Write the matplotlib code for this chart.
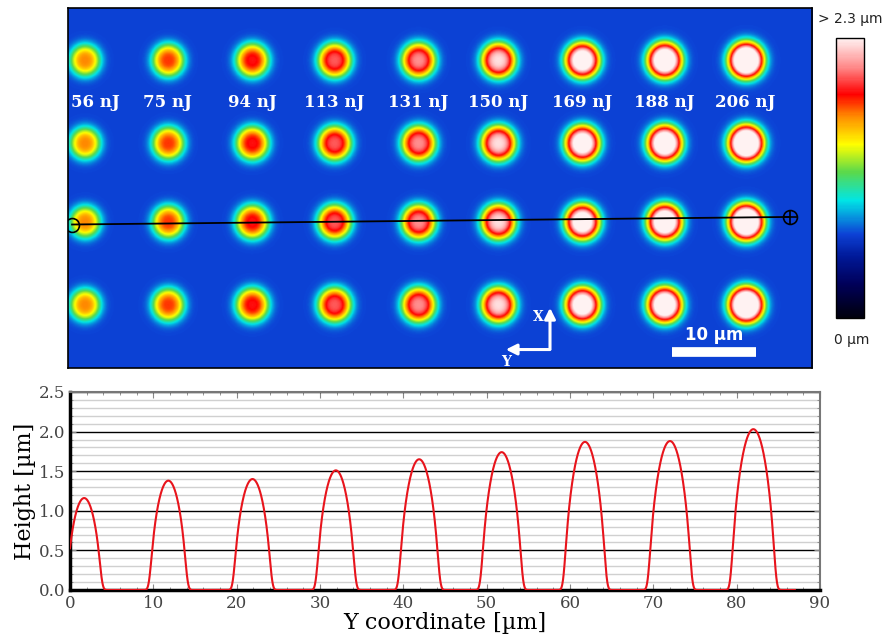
import numpy as np
import matplotlib
matplotlib.use('Agg')
import matplotlib.pyplot as plt
from matplotlib.colors import LinearSegmentedColormap
from matplotlib.ticker import MultipleLocator

plt.rcParams['font.family'] = 'DejaVu Serif'

# ---- data ----
energies = ['56 nJ', '75 nJ', '94 nJ', '113 nJ', '131 nJ', '150 nJ', '169 nJ', '188 nJ', '206 nJ']

# profile (bottom panel)
peak_y = [1.7, 11.8, 21.9, 31.9, 41.9, 51.8, 61.8, 72.0, 82.0]
peak_h = [1.17, 1.39, 1.41, 1.52, 1.66, 1.75, 1.88, 1.89, 2.04]
peak_r = [2.1, 2.25, 2.3, 2.35, 2.45, 2.5, 2.55, 2.6, 2.7]
profile_end = 87.0

# height map (top panel), in um
map_w, map_h = 88.6, 42.9
spot_x = [2.0, 11.9, 21.9, 31.7, 41.7, 51.2, 61.2, 71.0, 80.7]
row_y = [6.2, 16.1, 25.5, 35.4]
spot_amp = [0.97, 1.08, 1.17, 1.29, 1.38, 1.56, 1.84, 1.96, 2.19]
spot_w = [1.85, 1.92, 1.97, 2.0, 2.03, 2.05, 2.07, 2.09, 2.12]
background = 0.69
vmax = 2.3

fig = plt.figure(figsize=(8.88, 6.38), dpi=100)

# ---- top: height map ----
ax_img = fig.add_axes([68/888, 1-368/638, 744/888, 360/638])
xx = np.linspace(0, map_w, 900)
yy = np.linspace(0, map_h, 440)
X, Y = np.meshgrid(xx, yy)
Z = np.full_like(X, background)
for xc, a, w in zip(spot_x, spot_amp, spot_w):
    for yc in row_y:
        r = np.sqrt((X-xc)**2 + ((Y-yc)/1.04)**2)
        Z += a*np.exp(-(r/w)**3)

cmap = LinearSegmentedColormap.from_list('height', [
    (0.0, (0.0, 0.0, 0.05)),
    (0.12, (0.0, 0.0, 0.35)),
    (0.22, (0.0, 0.1, 0.6)),
    (0.30, (0.05, 0.26, 0.84)),
    (0.42, (0.0, 0.9, 0.9)),
    (0.52, (0.35, 0.85, 0.3)),
    (0.62, (1.0, 1.0, 0.0)),
    (0.72, (1.0, 0.55, 0.0)),
    (0.80, (1.0, 0.0, 0.0)),
    (0.90, (1.0, 0.55, 0.55)),
    (1.0, (1.0, 0.95, 0.95))])

im = ax_img.imshow(Z, cmap=cmap, vmin=0, vmax=vmax, extent=[0, map_w, map_h, 0],
                   aspect='auto', interpolation='bilinear')
ax_img.set_xticks([])
ax_img.set_yticks([])
for sp in ax_img.spines.values():
    sp.set_linewidth(1.2)

label_x = list(spot_x)
label_x[0] = spot_x[0] + 1.3
for lx, e in zip(label_x, energies):
    ax_img.text(lx, 11.3, e, color='white', fontsize=12, fontweight='bold',
                ha='center', va='center')

# profile line on the map
ax_img.plot([0.48, 85.95], [25.8, 24.9], color='black', lw=1.3)
ax_img.plot([0.48], [25.8], marker='o', mfc='none', mec='black', mew=1.2, ms=10, clip_on=True)
ax_img.plot([85.95], [24.9], marker='o', mfc='none', mec='black', mew=1.2, ms=10)
ax_img.plot([85.95], [24.9], marker='+', color='black', mew=1.2, ms=10)

# scale bar
ax_img.plot([71.9, 81.9], [41.0, 41.0], color='white', lw=7, solid_capstyle='butt')
ax_img.text(76.9, 39.0, '10 µm', color='white', fontsize=12, fontweight='bold',
            family='DejaVu Sans', ha='center', va='center')

# axis arrows
ax_img.annotate('', xy=(57.4, 35.4), xytext=(57.4, 41.0),
                arrowprops=dict(arrowstyle='-|>', color='white', lw=2.2, mutation_scale=16))
ax_img.annotate('', xy=(51.8, 40.7), xytext=(57.7, 40.7),
                arrowprops=dict(arrowstyle='-|>', color='white', lw=2.2, mutation_scale=16))
ax_img.text(56.0, 36.8, 'X', color='white', fontsize=10, fontweight='bold', ha='center', va='center')
ax_img.text(52.2, 42.2, 'Y', color='white', fontsize=10, fontweight='bold', ha='center', va='center')

# colorbar
cax = fig.add_axes([836/888, 1-318/638, 28/888, 280/638])
cb = fig.colorbar(im, cax=cax)
cb.set_ticks([])
cb.outline.set_linewidth(1.0)
fig.text(850/888, 1-19/638, '> 2.3 µm', family='DejaVu Sans', fontsize=10,
         ha='center', va='center', color='#222222')
fig.text(852/888, 1-340/638, '0 µm', family='DejaVu Sans', fontsize=10,
         ha='center', va='center', color='#222222')

# ---- bottom: height profile ----
ax = fig.add_axes([70/888, 1-590/638, 750/888, 198/638])
dy = 0.02
yc = np.arange(-3, profile_end, dy)
hc = np.zeros_like(yc)
for c, h, R in zip(peak_y, peak_h, peak_r):
    hc += h*np.clip(1-((yc-c)/R)**2, 0, None)**0.7
# slight smoothing of the feet (instrument blur)
k = np.exp(-0.5*(np.arange(-1, 1+dy, dy)/0.22)**2)
hc = np.convolve(hc, k/k.sum(), mode='same')
keep = yc >= 0
ax.plot(yc[keep], hc[keep], color='#e8141c', lw=1.5, zorder=3)

ax.set_xlim(0, 90)
ax.set_ylim(0, 2.5)
ax.xaxis.set_major_locator(MultipleLocator(10))
ax.xaxis.set_minor_locator(MultipleLocator(2))
ax.yaxis.set_major_locator(MultipleLocator(0.5))
ax.yaxis.set_minor_locator(MultipleLocator(0.1))
ax.grid(axis='y', which='minor', color='#d0d0d0', lw=1.0)
ax.grid(axis='y', which='major', color='black', lw=1.0)
ax.set_axisbelow(True)
ax.tick_params(which='both', direction='in', top=True, right=True, colors='#888888',
               labelcolor='#444444', labelsize=12)
ax.tick_params(which='major', length=4)
ax.tick_params(which='minor', length=2)
ax.spines['left'].set_linewidth(2.5)
ax.spines['bottom'].set_linewidth(2.5)
ax.spines['top'].set_color('#777777')
ax.spines['right'].set_color('#777777')
ax.spines['top'].set_linewidth(1.5)
ax.spines['right'].set_linewidth(1.5)
ax.set_xlabel('Y coordinate [µm]', fontsize=16, labelpad=0)
ax.set_ylabel('Height [µm]', fontsize=16, labelpad=2)

plt.savefig('out.png', dpi=100)
